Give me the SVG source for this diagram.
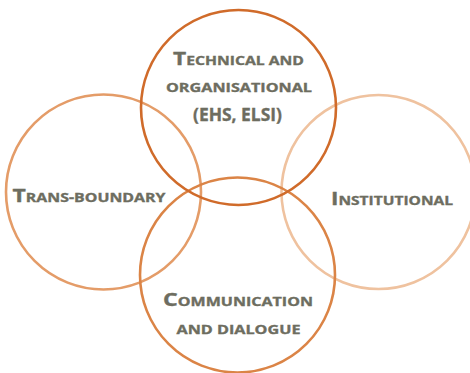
<svg xmlns="http://www.w3.org/2000/svg" width="470" height="373" viewBox="0 0 470 373">
<style>
.c{fill:none;stroke-width:2.6}
.t{font-family:"Open Sans","Liberation Sans",sans-serif;font-weight:bold;fill:#6d6d60;stroke:#6d6d60;stroke-width:0.35;text-anchor:middle}
.b{font-size:18.5px}
.s{font-size:12.8px}
</style>
<rect width="470" height="373" fill="#ffffff"/>
<g id="connectors"/>
<g id="trans-boundary">
<circle class="c" cx="103.5" cy="192" r="97.5" stroke="#e49c68"/>
<text class="t" x="89" y="202" textLength="153" lengthAdjust="spacingAndGlyphs"><tspan class="b">T</tspan><tspan class="s">RANS-BOUNDARY</tspan></text>
</g>
<g id="institutional">
<circle class="c" cx="378.5" cy="192" r="97" stroke="#efc29f"/>
<text class="t" x="392" y="205" textLength="122" lengthAdjust="spacingAndGlyphs"><tspan class="b">I</tspan><tspan class="s">NSTITUTIONAL</tspan></text>
</g>
<g id="communication">
<circle class="c" cx="237.5" cy="275" r="97.5" stroke="#db8446"/>
<text class="t" x="238" y="305.5" textLength="150" lengthAdjust="spacingAndGlyphs"><tspan class="b">C</tspan><tspan class="s">OMMUNICATION</tspan></text>
<text class="t s" x="238.5" y="334" textLength="124" lengthAdjust="spacingAndGlyphs">AND DIALOGUE</text>
</g>
<g id="technical">
<circle class="c" cx="238.5" cy="107.5" r="97.5" stroke="#d06b2a"/>
<text class="t" x="238.5" y="65" textLength="131" lengthAdjust="spacingAndGlyphs"><tspan class="b">T</tspan><tspan class="s">ECHNICAL AND</tspan></text>
<text class="t s" x="239" y="91.5" textLength="146" lengthAdjust="spacingAndGlyphs">ORGANISATIONAL</text>
<text class="t b" x="237.5" y="121" textLength="89" lengthAdjust="spacingAndGlyphs">(EHS, ELSI)</text>
</g>
</svg>
